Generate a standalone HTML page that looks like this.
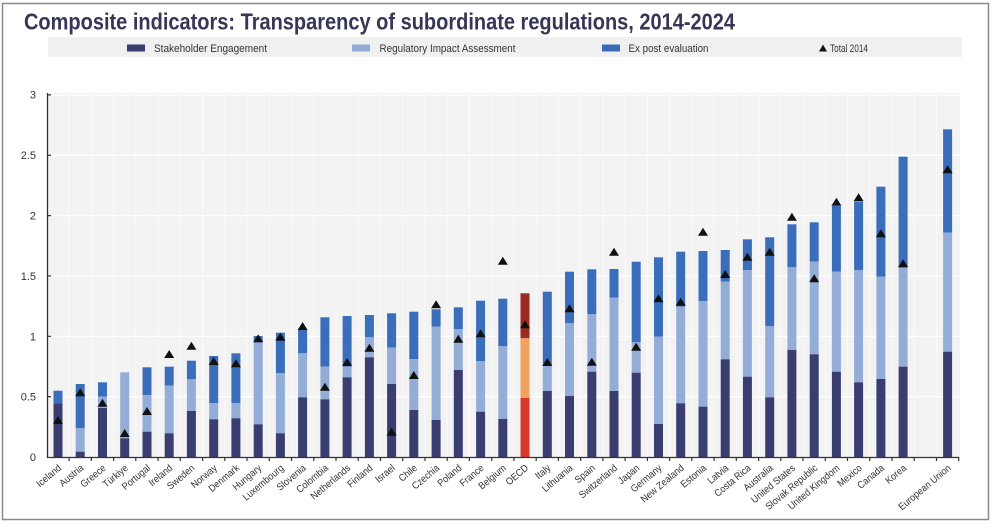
<!DOCTYPE html>
<html><head><meta charset="utf-8"><style>
html,body{margin:0;padding:0;background:#fff;}
svg{display:block;}
text{font-family:"Liberation Sans",Arial,sans-serif;}
</style></head><body>
<svg width="993" height="524" viewBox="0 0 993 524" xmlns="http://www.w3.org/2000/svg">
<rect x="0" y="0" width="993" height="524" fill="#fff"/>
<rect x="2.5" y="3.5" width="986" height="516" fill="#fff" stroke="#8a8a8a" stroke-width="1.5"/>
<text x="24" y="29.5" font-size="23" font-weight="bold" fill="#363656" textLength="711" lengthAdjust="spacingAndGlyphs">Composite indicators: Transparency of subordinate regulations, 2014-2024</text>
<rect x="48" y="37" width="914" height="20" fill="#f0f0f0"/>
<rect x="127" y="44.5" width="18" height="7" fill="#393d6f"/>
<text x="154" y="52" font-size="11" fill="#333" textLength="113" lengthAdjust="spacingAndGlyphs">Stakeholder Engagement</text>
<rect x="352" y="44.5" width="18" height="7" fill="#93add6"/>
<text x="379.5" y="52" font-size="11" fill="#333" textLength="136" lengthAdjust="spacingAndGlyphs">Regulatory Impact Assessment</text>
<rect x="602" y="44.5" width="18" height="7" fill="#3a6dba"/>
<text x="628.5" y="52" font-size="11" fill="#333" textLength="80" lengthAdjust="spacingAndGlyphs">Ex post evaluation</text>
<polygon points="819,51.5 827,51.5 823,44.5" fill="#111"/>
<text x="830" y="52" font-size="11" fill="#333" textLength="38" lengthAdjust="spacingAndGlyphs">Total 2014</text>

<rect x="48" y="93" width="912" height="364" fill="#f3f3f4"/>
<path d="M48 396.65H960M48 336.3H960M48 275.95H960M48 215.6H960M48 155.25H960M48 94.9H960" stroke="#fff" stroke-width="1.2"/>
<path d="M69.1 93V457M91.4 93V457M113.6 93V457M135.8 93V457M158.1 93V457M180.3 93V457M202.6 93V457M224.8 93V457M247 93V457M269.3 93V457M291.5 93V457M313.8 93V457M336 93V457M358.2 93V457M380.5 93V457M402.7 93V457M425 93V457M447.2 93V457M469.4 93V457M491.7 93V457M513.9 93V457M536.2 93V457M558.4 93V457M580.6 93V457M602.9 93V457M625.1 93V457M647.4 93V457M669.6 93V457M691.8 93V457M714.1 93V457M736.3 93V457M758.6 93V457M780.8 93V457M803 93V457M825.3 93V457M847.5 93V457M869.8 93V457M892 93V457M914.2 93V457M936.5 93V457" stroke="#fafafa" stroke-width="1"/>

<g>
<!-- EP (top), RIA (middle), SE (bottom) -->
<rect x="53.5" y="390.7" width="9" height="12.6" fill="#3a6dba"/><rect x="53.5" y="403.3" width="9" height="53.7" fill="#393d6f"/>
<rect x="75.7" y="384" width="9" height="44.3" fill="#3a6dba"/><rect x="75.7" y="428.3" width="9" height="23.4" fill="#93add6"/><rect x="75.7" y="451.7" width="9" height="5.3" fill="#393d6f"/>
<rect x="98" y="382.3" width="9" height="14.4" fill="#3a6dba"/><rect x="98" y="396.7" width="9" height="11.3" fill="#93add6"/><rect x="98" y="408" width="9" height="49" fill="#393d6f"/>
<rect x="120.2" y="372.3" width="9" height="66" fill="#93add6"/><rect x="120.2" y="438.3" width="9" height="18.7" fill="#393d6f"/>
<rect x="142.5" y="367.3" width="9" height="27.7" fill="#3a6dba"/><rect x="142.5" y="395" width="9" height="36.7" fill="#93add6"/><rect x="142.5" y="431.7" width="9" height="25.3" fill="#393d6f"/>
<rect x="164.7" y="366.7" width="9" height="19" fill="#3a6dba"/><rect x="164.7" y="385.7" width="9" height="47.6" fill="#93add6"/><rect x="164.7" y="433.3" width="9" height="23.7" fill="#393d6f"/>
<rect x="186.9" y="360.7" width="9" height="18.6" fill="#3a6dba"/><rect x="186.9" y="379.3" width="9" height="31.7" fill="#93add6"/><rect x="186.9" y="411" width="9" height="46" fill="#393d6f"/>
<rect x="209.2" y="356" width="9" height="47.3" fill="#3a6dba"/><rect x="209.2" y="403.3" width="9" height="16" fill="#93add6"/><rect x="209.2" y="419.3" width="9" height="37.7" fill="#393d6f"/>
<rect x="231.4" y="353.3" width="9" height="50" fill="#3a6dba"/><rect x="231.4" y="403.3" width="9" height="15" fill="#93add6"/><rect x="231.4" y="418.3" width="9" height="38.7" fill="#393d6f"/>
<rect x="253.7" y="336" width="9" height="6.7" fill="#3a6dba"/><rect x="253.7" y="342.7" width="9" height="81.6" fill="#93add6"/><rect x="253.7" y="424.3" width="9" height="32.7" fill="#393d6f"/>
<rect x="275.9" y="332.7" width="9" height="40.6" fill="#3a6dba"/><rect x="275.9" y="373.3" width="9" height="60" fill="#93add6"/><rect x="275.9" y="433.3" width="9" height="23.7" fill="#393d6f"/>
<rect x="298.1" y="329.3" width="9" height="24" fill="#3a6dba"/><rect x="298.1" y="353.3" width="9" height="44" fill="#93add6"/><rect x="298.1" y="397.3" width="9" height="59.7" fill="#393d6f"/>
<rect x="320.4" y="317.3" width="9" height="49.4" fill="#3a6dba"/><rect x="320.4" y="366.7" width="9" height="32.6" fill="#93add6"/><rect x="320.4" y="399.3" width="9" height="57.7" fill="#393d6f"/>
<rect x="342.6" y="316" width="9" height="50.7" fill="#3a6dba"/><rect x="342.6" y="366.7" width="9" height="10.6" fill="#93add6"/><rect x="342.6" y="377.3" width="9" height="79.7" fill="#393d6f"/>
<rect x="364.9" y="315" width="9" height="22.3" fill="#3a6dba"/><rect x="364.9" y="337.3" width="9" height="20" fill="#93add6"/><rect x="364.9" y="357.3" width="9" height="99.7" fill="#393d6f"/>
<rect x="387.1" y="313.3" width="9" height="34.4" fill="#3a6dba"/><rect x="387.1" y="347.7" width="9" height="36.3" fill="#93add6"/><rect x="387.1" y="384" width="9" height="73" fill="#393d6f"/>
<rect x="409.3" y="311.7" width="9" height="47.3" fill="#3a6dba"/><rect x="409.3" y="359" width="9" height="51" fill="#93add6"/><rect x="409.3" y="410" width="9" height="47" fill="#393d6f"/>
<rect x="431.6" y="309.3" width="9" height="17.4" fill="#3a6dba"/><rect x="431.6" y="326.7" width="9" height="93.3" fill="#93add6"/><rect x="431.6" y="420" width="9" height="37" fill="#393d6f"/>
<rect x="453.8" y="307.3" width="9" height="22" fill="#3a6dba"/><rect x="453.8" y="329.3" width="9" height="40.7" fill="#93add6"/><rect x="453.8" y="370" width="9" height="87" fill="#393d6f"/>
<rect x="476.1" y="300.7" width="9" height="60.3" fill="#3a6dba"/><rect x="476.1" y="361" width="9" height="50.7" fill="#93add6"/><rect x="476.1" y="411.7" width="9" height="45.3" fill="#393d6f"/>
<rect x="498.3" y="298.7" width="9" height="47.3" fill="#3a6dba"/><rect x="498.3" y="346" width="9" height="73" fill="#93add6"/><rect x="498.3" y="419" width="9" height="38" fill="#393d6f"/>
<rect x="520.5" y="293.3" width="9" height="45" fill="#9e2b20"/><rect x="520.5" y="338.3" width="9" height="59.7" fill="#f2a15f"/><rect x="520.5" y="398" width="9" height="59" fill="#d8362b"/>
<rect x="542.8" y="291.7" width="9" height="74.3" fill="#3a6dba"/><rect x="542.8" y="366" width="9" height="25" fill="#93add6"/><rect x="542.8" y="391" width="9" height="66" fill="#393d6f"/>
<rect x="565" y="271.7" width="9" height="51.6" fill="#3a6dba"/><rect x="565" y="323.3" width="9" height="72.7" fill="#93add6"/><rect x="565" y="396" width="9" height="61" fill="#393d6f"/>
<rect x="587.3" y="269.3" width="9" height="44.7" fill="#3a6dba"/><rect x="587.3" y="314" width="9" height="57.7" fill="#93add6"/><rect x="587.3" y="371.7" width="9" height="85.3" fill="#393d6f"/>
<rect x="609.5" y="269" width="9" height="28.7" fill="#3a6dba"/><rect x="609.5" y="297.7" width="9" height="93.3" fill="#93add6"/><rect x="609.5" y="391" width="9" height="66" fill="#393d6f"/>
<rect x="631.7" y="261.7" width="9" height="80.6" fill="#3a6dba"/><rect x="631.7" y="342.3" width="9" height="30.4" fill="#93add6"/><rect x="631.7" y="372.7" width="9" height="84.3" fill="#393d6f"/>
<rect x="654" y="257.3" width="9" height="79.4" fill="#3a6dba"/><rect x="654" y="336.7" width="9" height="87.3" fill="#93add6"/><rect x="654" y="424" width="9" height="33" fill="#393d6f"/>
<rect x="676.2" y="251.7" width="9" height="55" fill="#3a6dba"/><rect x="676.2" y="306.7" width="9" height="96.6" fill="#93add6"/><rect x="676.2" y="403.3" width="9" height="53.7" fill="#393d6f"/>
<rect x="698.5" y="251" width="9" height="50" fill="#3a6dba"/><rect x="698.5" y="301" width="9" height="105.7" fill="#93add6"/><rect x="698.5" y="406.7" width="9" height="50.3" fill="#393d6f"/>
<rect x="720.7" y="250" width="9" height="31.7" fill="#3a6dba"/><rect x="720.7" y="281.7" width="9" height="77.6" fill="#93add6"/><rect x="720.7" y="359.3" width="9" height="97.7" fill="#393d6f"/>
<rect x="742.9" y="239.3" width="9" height="30.7" fill="#3a6dba"/><rect x="742.9" y="270" width="9" height="106.7" fill="#93add6"/><rect x="742.9" y="376.7" width="9" height="80.3" fill="#393d6f"/>
<rect x="765.2" y="237.3" width="9" height="88.7" fill="#3a6dba"/><rect x="765.2" y="326" width="9" height="71.3" fill="#93add6"/><rect x="765.2" y="397.3" width="9" height="59.7" fill="#393d6f"/>
<rect x="787.4" y="224.3" width="9" height="43" fill="#3a6dba"/><rect x="787.4" y="267.3" width="9" height="82.7" fill="#93add6"/><rect x="787.4" y="350" width="9" height="107" fill="#393d6f"/>
<rect x="809.7" y="222.3" width="9" height="39.4" fill="#3a6dba"/><rect x="809.7" y="261.7" width="9" height="92.6" fill="#93add6"/><rect x="809.7" y="354.3" width="9" height="102.7" fill="#393d6f"/>
<rect x="831.9" y="206" width="9" height="65.7" fill="#3a6dba"/><rect x="831.9" y="271.7" width="9" height="100" fill="#93add6"/><rect x="831.9" y="371.7" width="9" height="85.3" fill="#393d6f"/>
<rect x="854.1" y="201.7" width="9" height="68.3" fill="#3a6dba"/><rect x="854.1" y="270" width="9" height="112.3" fill="#93add6"/><rect x="854.1" y="382.3" width="9" height="74.7" fill="#393d6f"/>
<rect x="876.4" y="186.7" width="9" height="90" fill="#3a6dba"/><rect x="876.4" y="276.7" width="9" height="102.3" fill="#93add6"/><rect x="876.4" y="379" width="9" height="78" fill="#393d6f"/>
<rect x="898.6" y="156.7" width="9" height="111" fill="#3a6dba"/><rect x="898.6" y="267.7" width="9" height="99" fill="#93add6"/><rect x="898.6" y="366.7" width="9" height="90.3" fill="#393d6f"/>
<rect x="943.1" y="129.3" width="9" height="103.4" fill="#3a6dba"/><rect x="943.1" y="232.7" width="9" height="119" fill="#93add6"/><rect x="943.1" y="351.7" width="9" height="105.3" fill="#393d6f"/>
</g>

<g fill="#111">
<polygon points="53,424 63,424 58,416"/>
<polygon points="75.2,396.3 85.2,396.3 80.2,388.3"/>
<polygon points="97.5,406.7 107.5,406.7 102.5,398.7"/>
<polygon points="119.7,437 129.7,437 124.7,429"/>
<polygon points="142,415 152,415 147,407"/>
<polygon points="164.2,358 174.2,358 169.2,350"/>
<polygon points="186.4,349.7 196.4,349.7 191.4,341.7"/>
<polygon points="208.7,365 218.7,365 213.7,357"/>
<polygon points="230.9,367.3 240.9,367.3 235.9,359.3"/>
<polygon points="253.2,342.3 263.2,342.3 258.2,334.3"/>
<polygon points="275.4,340.7 285.4,340.7 280.4,332.7"/>
<polygon points="297.6,330 307.6,330 302.6,322"/>
<polygon points="319.9,390.7 329.9,390.7 324.9,382.7"/>
<polygon points="342.1,366 352.1,366 347.1,358"/>
<polygon points="364.4,351.7 374.4,351.7 369.4,343.7"/>
<polygon points="386.6,435.7 396.6,435.7 391.6,427.7"/>
<polygon points="408.8,379 418.8,379 413.8,371"/>
<polygon points="431.1,308.3 441.1,308.3 436.1,300.3"/>
<polygon points="453.3,342.7 463.3,342.7 458.3,334.7"/>
<polygon points="475.6,337.3 485.6,337.3 480.6,329.3"/>
<polygon points="497.8,264.7 507.8,264.7 502.8,256.7"/>
<polygon points="520,328.3 530,328.3 525,320.3"/>
<polygon points="542.3,366 552.3,366 547.3,358"/>
<polygon points="564.5,312.3 574.5,312.3 569.5,304.3"/>
<polygon points="586.8,365.7 596.8,365.7 591.8,357.7"/>
<polygon points="609,255.7 619,255.7 614,247.7"/>
<polygon points="631.2,350.7 641.2,350.7 636.2,342.7"/>
<polygon points="653.5,302.3 663.5,302.3 658.5,294.3"/>
<polygon points="675.7,305.7 685.7,305.7 680.7,297.7"/>
<polygon points="698,235.7 708,235.7 703,227.7"/>
<polygon points="720.2,278 730.2,278 725.2,270"/>
<polygon points="742.4,260.7 752.4,260.7 747.4,252.7"/>
<polygon points="764.7,255.7 774.7,255.7 769.7,247.7"/>
<polygon points="786.9,220.7 796.9,220.7 791.9,212.7"/>
<polygon points="809.2,282.3 819.2,282.3 814.2,274.3"/>
<polygon points="831.4,205.7 841.4,205.7 836.4,197.7"/>
<polygon points="853.6,201.3 863.6,201.3 858.6,193.3"/>
<polygon points="875.9,237.3 885.9,237.3 880.9,229.3"/>
<polygon points="898.1,267.3 908.1,267.3 903.1,259.3"/>
<polygon points="942.6,173.3 952.6,173.3 947.6,165.3"/>
</g>

<!-- axes -->
<path d="M47.5 93V457.5H959" stroke="#333" stroke-width="1.3" fill="none"/>
<path d="M47.5 94.9H51M47.5 155.25H51M47.5 215.6H51M47.5 275.95H51M47.5 336.3H51M47.5 396.65H51" stroke="#333" stroke-width="1.2"/>
<path d="M69.1 457V461M91.4 457V461M113.6 457V461M135.8 457V461M158.1 457V461M180.3 457V461M202.6 457V461M224.8 457V461M247 457V461M269.3 457V461M291.5 457V461M313.8 457V461M336 457V461M358.2 457V461M380.5 457V461M402.7 457V461M425 457V461M447.2 457V461M469.4 457V461M491.7 457V461M513.9 457V461M536.2 457V461M558.4 457V461M580.6 457V461M602.9 457V461M625.1 457V461M647.4 457V461M669.6 457V461M691.8 457V461M714.1 457V461M736.3 457V461M758.6 457V461M780.8 457V461M803 457V461M825.3 457V461M847.5 457V461M869.8 457V461M892 457V461M914.2 457V461M936.5 457V461M958.7 457V461" stroke="#333" stroke-width="1.2"/>

<g font-size="11" fill="#333" text-anchor="end">
<text x="36" y="98.5">3</text>
<text x="36" y="159">2.5</text>
<text x="36" y="219.5">2</text>
<text x="36" y="280">1.5</text>
<text x="36" y="340.3">1</text>
<text x="36" y="400.7">0.5</text>
<text x="36" y="461">0</text>
</g>

<g font-size="10" fill="#333" text-anchor="end">
<text transform="translate(62,469) rotate(-40) scale(0.9,1)">Iceland</text>
<text transform="translate(84.2,469) rotate(-40) scale(0.9,1)">Austria</text>
<text transform="translate(106.5,469) rotate(-40) scale(0.9,1)">Greece</text>
<text transform="translate(128.7,469) rotate(-40) scale(0.9,1)">Türkiye</text>
<text transform="translate(151,469) rotate(-40) scale(0.9,1)">Portugal</text>
<text transform="translate(173.2,469) rotate(-40) scale(0.9,1)">Ireland</text>
<text transform="translate(195.4,469) rotate(-40) scale(0.9,1)">Sweden</text>
<text transform="translate(217.7,469) rotate(-40) scale(0.9,1)">Norway</text>
<text transform="translate(239.9,469) rotate(-40) scale(0.9,1)">Denmark</text>
<text transform="translate(262.2,469) rotate(-40) scale(0.9,1)">Hungary</text>
<text transform="translate(284.4,469) rotate(-40) scale(0.9,1)">Luxembourg</text>
<text transform="translate(306.6,469) rotate(-40) scale(0.9,1)">Slovenia</text>
<text transform="translate(328.9,469) rotate(-40) scale(0.9,1)">Colombia</text>
<text transform="translate(351.1,469) rotate(-40) scale(0.9,1)">Netherlands</text>
<text transform="translate(373.4,469) rotate(-40) scale(0.9,1)">Finland</text>
<text transform="translate(395.6,469) rotate(-40) scale(0.9,1)">Israel</text>
<text transform="translate(417.8,469) rotate(-40) scale(0.9,1)">Chile</text>
<text transform="translate(440.1,469) rotate(-40) scale(0.9,1)">Czechia</text>
<text transform="translate(462.3,469) rotate(-40) scale(0.9,1)">Poland</text>
<text transform="translate(484.6,469) rotate(-40) scale(0.9,1)">France</text>
<text transform="translate(506.8,469) rotate(-40) scale(0.9,1)">Belgium</text>
<text transform="translate(529,469) rotate(-40) scale(0.9,1)">OECD</text>
<text transform="translate(551.3,469) rotate(-40) scale(0.9,1)">Italy</text>
<text transform="translate(573.5,469) rotate(-40) scale(0.9,1)">Lithuania</text>
<text transform="translate(595.8,469) rotate(-40) scale(0.9,1)">Spain</text>
<text transform="translate(618,469) rotate(-40) scale(0.9,1)">Switzerland</text>
<text transform="translate(640.2,469) rotate(-40) scale(0.9,1)">Japan</text>
<text transform="translate(662.5,469) rotate(-40) scale(0.9,1)">Germany</text>
<text transform="translate(684.7,469) rotate(-40) scale(0.9,1)">New Zealand</text>
<text transform="translate(707,469) rotate(-40) scale(0.9,1)">Estonia</text>
<text transform="translate(729.2,469) rotate(-40) scale(0.9,1)">Latvia</text>
<text transform="translate(751.4,469) rotate(-40) scale(0.9,1)">Costa Rica</text>
<text transform="translate(773.7,469) rotate(-40) scale(0.9,1)">Australia</text>
<text transform="translate(795.9,469) rotate(-40) scale(0.9,1)">United States</text>
<text transform="translate(818.2,469) rotate(-40) scale(0.9,1)">Slovak Republic</text>
<text transform="translate(840.4,469) rotate(-40) scale(0.9,1)">United Kingdom</text>
<text transform="translate(862.6,469) rotate(-40) scale(0.9,1)">Mexico</text>
<text transform="translate(884.9,469) rotate(-40) scale(0.9,1)">Canada</text>
<text transform="translate(907.1,469) rotate(-40) scale(0.9,1)">Korea</text>
<text transform="translate(951.6,469) rotate(-40) scale(0.9,1)">European Union</text>
</g>
</svg>
</body></html>
